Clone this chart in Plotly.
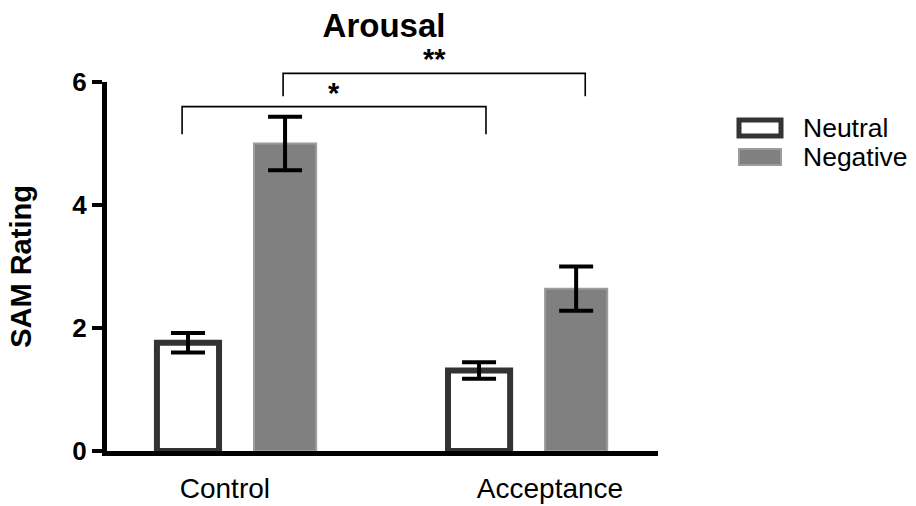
import plotly.graph_objects as go

# Group labels and their tick positions on the x axis (group centres at 0 and 1)
groups = ["Control", "Acceptance"]
group_pos = [0, 1]
label_pos = [-0.04, 1.077]

# Mean SAM arousal ratings and SEM per condition
neutral_mean = [1.76, 1.31]
neutral_sem = [0.16, 0.135]
negative_mean = [5.00, 2.64]
negative_sem = [0.435, 0.36]

y_ticks = [0, 2, 4, 6]

# Significance brackets: (x start, x end, bar height, leg bottom, label)
brackets = [
    (-0.187, 0.857, 5.60, 5.15, "*"),
    (0.160, 1.198, 6.14, 5.77, "**"),
]

X_RANGE = [-0.445, 1.448]
Y_RANGE = [0, 6]

FONT = "Arial, Liberation Sans, sans-serif"

fig = go.Figure()

fig.add_trace(go.Bar(
    x=group_pos, y=neutral_mean, name="Neutral",
    marker=dict(color="white", line=dict(color="#333333", width=6)),
    error_y=dict(type="data", array=neutral_sem, color="black", thickness=4, width=17),
    showlegend=False,
))
fig.add_trace(go.Bar(
    x=group_pos, y=negative_mean, name="Negative",
    marker=dict(color="#808080", line=dict(color="#9c9c9c", width=2)),
    error_y=dict(type="data", array=negative_sem, color="black", thickness=4, width=17),
    showlegend=False,
))


def to_px(x):
    return (x - X_RANGE[0]) / (X_RANGE[1] - X_RANGE[0])


def to_py(y):
    return (y - Y_RANGE[0]) / (Y_RANGE[1] - Y_RANGE[0])


shapes = []
annotations = []
for x0, x1, top, foot, label in brackets:
    path = "M {a},{b} L {a},{c} L {d},{c} L {d},{b}".format(
        a=to_px(x0), b=to_py(foot), c=to_py(top), d=to_px(x1))
    shapes.append(dict(type="path", path=path, xref="paper", yref="paper",
                       line=dict(color="black", width=1.6)))
    annotations.append(dict(x=to_px((x0 + x1) / 2), y=to_py(top),
                            xref="paper", yref="paper",
                            text=label, showarrow=False, yanchor="bottom",
                            yshift=-4,
                            font=dict(family=FONT, size=29, color="black",
                                      weight="bold")))

# Legend drawn as swatches with text beside them
W, H = 916, 506
ML, MR, MT, MB = 107, 258, 82, 55
PW, PH = W - ML - MR, H - MT - MB


def ppx(px):
    return (px - ML) / PW


def ppy(py):
    return (H - MB - py) / PH


legend_items = [
    ("Neutral", "white", "#333333", 5, 128),
    ("Negative", "#808080", "#9c9c9c", 2, 157),
]
for text, fill, edge, lw, cy in legend_items:
    shapes.append(dict(type="rect", xref="paper", yref="paper",
                       x0=ppx(739), x1=ppx(781), y0=ppy(cy + 8), y1=ppy(cy - 8),
                       fillcolor=fill, line=dict(color=edge, width=lw)))
    annotations.append(dict(x=ppx(801), y=ppy(cy), xref="paper", yref="paper",
                            text=text, showarrow=False, xanchor="left",
                            yanchor="middle",
                            font=dict(family=FONT, size=26.5, color="black")))

fig.update_layout(
    width=W, height=H,
    margin=dict(l=ML, r=MR, t=MT, b=MB),
    paper_bgcolor="white", plot_bgcolor="white",
    barmode="group", bargap=0.333, bargroupgap=0.36,
    title=dict(text="Arousal", x=384 / W, xref="container", xanchor="center",
               y=1 - 25 / H, yref="container", yanchor="middle",
               font=dict(family=FONT, size=33, color="black", weight="bold")),
    shapes=shapes,
    annotations=annotations,
    showlegend=False,
)

fig.update_xaxes(
    range=X_RANGE, tickvals=label_pos, ticktext=groups,
    showline=True, linecolor="black", linewidth=5,
    ticks="outside", ticklen=8, tickcolor="rgba(0,0,0,0)",
    showgrid=False, zeroline=False, automargin=False,
    tickfont=dict(family=FONT, size=28, color="black"),
)
fig.update_yaxes(
    range=Y_RANGE, tickvals=y_ticks,
    showline=True, linecolor="black", linewidth=5,
    ticks="outside", ticklen=10, tickwidth=4, tickcolor="black",
    showgrid=False, zeroline=False, automargin=False,
    tickfont=dict(family=FONT, size=26, color="black", weight="bold"),
    title=dict(text="SAM Rating", standoff=34,
               font=dict(family=FONT, size=29, color="black", weight="bold")),
)

fig.write_html("out.html")
